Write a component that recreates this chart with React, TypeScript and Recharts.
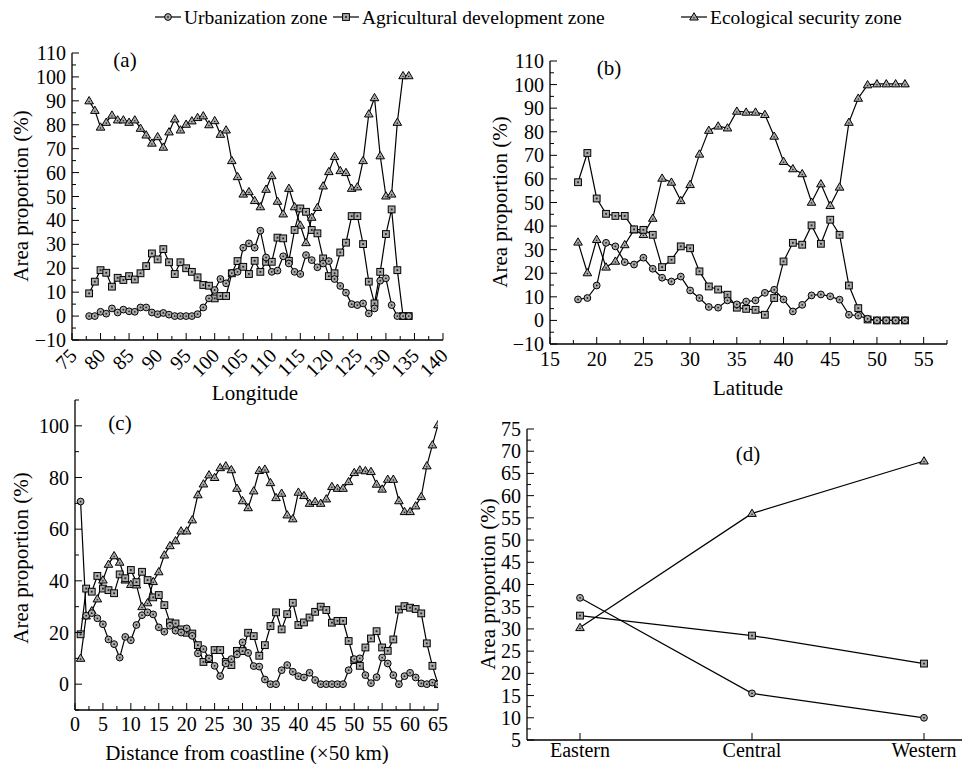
import React from 'react';
import { LineChart, Line, XAxis, YAxis } from 'recharts';

const FONT = '"Liberation Serif", "Times New Roman", Times, serif';
const TICK_FS = 20;
const TITLE_FS = 21;

// ---------- Panel (a): Longitude ----------
const LON = [78, 79, 80, 81, 82, 83, 84, 85, 86, 87, 88, 89, 90, 91, 92, 93, 94, 95, 96, 97, 98, 99, 100, 101, 102, 103, 104, 105, 106, 107, 108, 109, 110, 111, 112, 113, 114, 115, 116, 117, 118, 119, 120, 121, 122, 123, 124, 125, 126, 127, 128, 129, 130, 131, 132, 133, 134];
const URB_A = [0, 0, 1.8, 1, 3.2, 1.5, 2.7, 2, 1.8, 3.6, 3.6, 1.5, 0.8, 1.3, 0.6, 0, 0, 0, 0, 0.8, 3.6, 7.4, 10.9, 15.5, 13.7, 18, 18.5, 28.6, 30.4, 28.6, 35.7, 24.5, 18.5, 19, 25, 22, 18.5, 17.6, 25.5, 23.4, 20.4, 22, 23, 15.5, 12.6, 9.8, 5, 4.6, 5.3, 1.1, 3.2, 14.8, 15.8, 4.6, 0, 0, 0];
const AGR_A = [9.5, 14.4, 19.2, 18.1, 12.3, 16, 15.1, 16.7, 15.3, 17.9, 20.9, 26.2, 23.7, 28, 22.5, 17.6, 22.5, 20, 18.5, 16.2, 13, 12.7, 7.4, 8.4, 8.4, 17.9, 23, 20.6, 17.6, 23.1, 18.5, 22.7, 22.7, 32.8, 32.5, 23.1, 36, 45, 43.6, 36, 34.6, 24.1, 16.7, 17.9, 26.6, 30.7, 41.8, 41.8, 30.1, 14.4, 5.3, 18.5, 34.3, 44.6, 19.2, 0, 0];
const ECO_A = [90, 86, 79, 81, 84, 82, 82, 81, 82, 78.5, 75.7, 72.3, 75, 70.6, 77, 82.4, 77.8, 80.2, 81.6, 83, 83.7, 80, 81.7, 76, 77.8, 65, 58.3, 51, 52, 48.3, 45.7, 53, 58.7, 48, 42.7, 53.4, 45.7, 38, 30.7, 41.3, 45.4, 54.4, 60.4, 66.7, 60.8, 60, 53.4, 54, 65, 84.5, 91.3, 67, 50.2, 51, 81, 100.5, 100.5];
const X_TICKS_A = [75, 77.5, 80, 82.5, 85, 87.5, 90, 92.5, 95, 97.5, 100, 102.5, 105, 107.5, 110, 112.5, 115, 117.5, 120, 122.5, 125, 127.5, 130, 132.5, 135, 137.5, 140];
const X_LABELS_A = [75, 80, 85, 90, 95, 100, 105, 110, 115, 120, 125, 130, 135, 140];

// ---------- Panel (b): Latitude ----------
const LAT = [18, 19, 20, 21, 22, 23, 24, 25, 26, 27, 28, 29, 30, 31, 32, 33, 34, 35, 36, 37, 38, 39, 40, 41, 42, 43, 44, 45, 46, 47, 48, 49, 50, 51, 52, 53];
const URB_B = [8.9, 9.5, 14.8, 32.9, 31.4, 24.7, 23.7, 26.6, 21.9, 18.1, 16.5, 18.6, 12.7, 9.5, 5.7, 5.4, 8.5, 6.8, 8, 8.5, 11.7, 13, 8.9, 3.8, 6.6, 10.6, 11, 10.2, 8.8, 2.4, 2, 0.7, 0, 0, 0, 0];
const AGR_B = [58.6, 71, 51.7, 45.2, 44.3, 44.3, 38.6, 38.4, 36.3, 22.6, 25.7, 31.4, 30.6, 20.8, 14.4, 13.1, 10.9, 5.4, 4.9, 4.5, 2.4, 9.5, 25, 32.9, 32.1, 40.3, 32.5, 42.7, 36.3, 14.8, 5.2, 0.4, 0, 0, 0, 0];
const ECO_B = [33.2, 20.2, 34.3, 22.6, 25.1, 32.1, 38.4, 36.4, 43.3, 60.3, 58.6, 50.8, 57.6, 70.5, 80.6, 82.4, 81.6, 88.7, 88.3, 88.3, 87.3, 78.1, 67.4, 64.3, 62.2, 50.1, 57.9, 48.7, 56.5, 84, 94.2, 99.9, 100.3, 100.3, 100.3, 100.3];
const X_TICKS_B = [15, 17.5, 20, 22.5, 25, 27.5, 30, 32.5, 35, 37.5, 40, 42.5, 45, 47.5, 50, 52.5, 55, 57.5];
const X_LABELS_B = [15, 20, 25, 30, 35, 40, 45, 50, 55];

// ---------- Panel (c): Distance from coastline ----------
const DIST = [1, 2, 3, 4, 5, 6, 7, 8, 9, 10, 11, 12, 13, 14, 15, 16, 17, 18, 19, 20, 21, 22, 23, 24, 25, 26, 27, 28, 29, 30, 31, 32, 33, 34, 35, 36, 37, 38, 39, 40, 41, 42, 43, 44, 45, 46, 47, 48, 49, 50, 51, 52, 53, 54, 55, 56, 57, 58, 59, 60, 61, 62, 63, 64, 65];
const URB_C = [70.7, 26.5, 27.5, 25.5, 23.2, 17.3, 15.5, 10.3, 18.3, 17, 22.9, 26.7, 27.8, 27, 22, 20.3, 22.6, 20.7, 20, 21.6, 18.7, 11.9, 13.6, 10, 7.1, 3.1, 8, 9.7, 11.5, 16.2, 12.1, 7, 6.8, 1.8, 0, 0, 5.4, 7.4, 4.8, 3.1, 2.6, 4.4, 1.6, 0, 0, 0, 0, 0, 5.4, 9.7, 10, 3.5, 0.4, 2.7, 10.3, 8, 3.5, 0, 3.1, 4.4, 2.6, 0.3, 0, 0.6, 0];
const AGR_C = [19.3, 37, 35.8, 41.9, 37, 36.4, 35.2, 42.5, 41, 44.2, 39.5, 43.5, 40.3, 33.6, 34.5, 30.6, 23.9, 23.5, 21.2, 19.9, 19.6, 15.1, 8.6, 9.7, 13.2, 13.2, 8.6, 7.4, 12.9, 12.8, 19.9, 18.6, 11, 15.1, 22.5, 27.8, 21.2, 27.1, 31.5, 22.9, 23.9, 25.8, 28, 30, 28.7, 23.8, 24.5, 24.5, 16.7, 9.3, 7.1, 14.2, 17.7, 20.5, 14.2, 12.9, 17.3, 28.9, 30.2, 29.6, 29.1, 27.4, 15.8, 7.1, 0];
const ECO_C = [10, 26.4, 28.4, 33, 40.3, 46.4, 49.7, 47.2, 40.3, 38.6, 38.4, 30, 31.5, 39.7, 43.5, 50, 53.6, 55.5, 59.3, 59.3, 63.6, 73.3, 77.5, 81, 80, 83.8, 84.5, 83, 75.8, 71, 68.3, 74.8, 82.7, 83.2, 78, 72.2, 73.9, 65.5, 64, 74.3, 73, 70, 70.7, 70, 71.7, 76.5, 75.8, 75.8, 78.4, 81.9, 82.9, 82.6, 82.3, 77.4, 75.5, 79.3, 79.3, 71, 66.8, 66.8, 69, 72.6, 84.5, 92.6, 100.4];
const X_TICKS_C = [0, 2.5, 5, 7.5, 10, 12.5, 15, 17.5, 20, 22.5, 25, 27.5, 30, 32.5, 35, 37.5, 40, 42.5, 45, 47.5, 50, 52.5, 55, 57.5, 60, 62.5, 65];
const X_LABELS_C = [0, 5, 10, 15, 20, 25, 30, 35, 40, 45, 50, 55, 60, 65];
const Y_TICKS_C = [-10, 0, 10, 20, 30, 40, 50, 60, 70, 80, 90, 100, 110];
const Y_LABELS_C = [0, 20, 40, 60, 80, 100];

// ---------- Panel (d): Regions ----------
const REGIONS = ['Eastern', 'Central', 'Western'];
const URB_D = [37, 15.5, 10];
const AGR_D = [33, 28.5, 22.2];
const ECO_D = [30.3, 56, 67.8];
const Y_TICKS_D = [5, 7.5, 10, 12.5, 15, 17.5, 20, 22.5, 25, 27.5, 30, 32.5, 35, 37.5, 40, 42.5, 45, 47.5, 50, 52.5, 55, 57.5, 60, 62.5, 65, 67.5, 70, 72.5, 75];
const Y_LABELS_D = [5, 10, 15, 20, 25, 30, 35, 40, 45, 50, 55, 60, 65, 70, 75];

// shared y ticks for (a) and (b)
const Y_TICKS_AB = [-10, -5, 0, 5, 10, 15, 20, 25, 30, 35, 40, 45, 50, 55, 60, 65, 70, 75, 80, 85, 90, 95, 100, 105, 110];
const Y_LABELS_AB = [-10, 0, 10, 20, 30, 40, 50, 60, 70, 80, 90, 100, 110];

const SERIES_NAMES = ['Urbanization zone', 'Agricultural development zone', 'Ecological security zone'];

const rows = (xs: (number | string)[], u: number[], g: number[], e: number[]) =>
  xs.map((x, i) => ({ x, u: u[i], g: g[i], e: e[i] }));

const dataA = rows(LON, URB_A, AGR_A, ECO_A);
const dataB = rows(LAT, URB_B, AGR_B, ECO_B);
const dataC = rows(DIST, URB_C, AGR_C, ECO_C);
const dataD = rows(REGIONS, URB_D, AGR_D, ECO_D);

type Kind = 'circle' | 'square' | 'triangle';
const MFILL = '#a9a9a9';

function MarkerShape({ cx, cy, kind }: { cx: number; cy: number; kind: Kind }) {
  if (kind === 'circle') {
    return (
      <g>
        <circle cx={cx} cy={cy} r={3.4} fill={MFILL} stroke="#000" strokeWidth={1} />
        <circle cx={cx} cy={cy} r={0.9} fill="#222" />
      </g>
    );
  }
  if (kind === 'square') {
    return (
      <g>
        <rect x={cx - 3.4} y={cy - 3.4} width={6.8} height={6.8} fill={MFILL} stroke="#000" strokeWidth={1} />
        <rect x={cx - 0.9} y={cy - 0.9} width={1.8} height={1.8} fill="#222" />
      </g>
    );
  }
  return (
    <g>
      <polygon
        points={`${cx},${cy - 4.3} ${cx - 4.3},${cy + 3} ${cx + 4.3},${cy + 3}`}
        fill={MFILL}
        stroke="#000"
        strokeWidth={1}
      />
      <circle cx={cx} cy={cy + 0.8} r={0.8} fill="#222" />
    </g>
  );
}

const dotFor = (kind: Kind) => (p: any) => {
  const key = `${kind}-${p.index}`;
  if (p.cx == null || p.cy == null || isNaN(p.cx) || isNaN(p.cy)) return <g key={key} />;
  return <MarkerShape key={key} cx={p.cx} cy={p.cy} kind={kind} />;
};

const fmt = (v: number) => (v < 0 ? `\u2212${Math.abs(v)}` : `${v}`);

const yTick = (labels: number[]) => (p: any) => {
  const { x, y, payload } = p;
  const v = payload.value as number;
  const major = labels.includes(v);
  return (
    <g>
      <line x1={x} x2={x + (major ? 7 : 4)} y1={y} y2={y} stroke="#000" strokeWidth={1} />
      {major && (
        <text x={x - 6} y={y} dy="0.35em" textAnchor="end" fontFamily={FONT} fontSize={TICK_FS} fill="#000">
          {fmt(v)}
        </text>
      )}
    </g>
  );
};

const xTick = (labels: number[], offset: number) => (p: any) => {
  const { x, y, payload } = p;
  const v = payload.value as number;
  const major = labels.includes(v);
  return (
    <g>
      <line x1={x} x2={x} y1={y} y2={y - (major ? 7 : 4)} stroke="#000" strokeWidth={1} />
      {major && (
        <text x={x} y={y + offset} dy="0.71em" textAnchor="middle" fontFamily={FONT} fontSize={TICK_FS} fill="#000">
          {fmt(v)}
        </text>
      )}
    </g>
  );
};

const xTickRot = (labels: number[]) => (p: any) => {
  const { x, y, payload } = p;
  const v = payload.value as number;
  const major = labels.includes(v);
  const ax = x + 1;
  const ay = y + 12;
  return (
    <g>
      <line x1={x} x2={x} y1={y} y2={y - (major ? 7 : 4)} stroke="#000" strokeWidth={1} />
      {major && (
        <text
          x={ax}
          y={ay}
          dy="0.35em"
          textAnchor="end"
          transform={`rotate(-45 ${ax} ${ay})`}
          fontFamily={FONT}
          fontSize={TICK_FS}
          fill="#000"
        >
          {fmt(v)}
        </text>
      )}
    </g>
  );
};

const catTick = (p: any) => {
  const { x, y, payload } = p;
  return (
    <g>
      <line x1={x} x2={x} y1={y} y2={y - 7} stroke="#000" strokeWidth={1} />
      <text x={x} y={y + 3} dy="0.71em" textAnchor="middle" fontFamily={FONT} fontSize={TICK_FS} fill="#000">
        {payload.value}
      </text>
    </g>
  );
};

const AXIS_LINE = { stroke: '#000', strokeWidth: 1.3 };

const seriesLines = () => [
  <Line key="e" type="linear" dataKey="e" name={SERIES_NAMES[2]} stroke="#000" strokeWidth={1.2} dot={dotFor('triangle')} activeDot={false} isAnimationActive={false} />,
  <Line key="g" type="linear" dataKey="g" name={SERIES_NAMES[1]} stroke="#000" strokeWidth={1.2} dot={dotFor('square')} activeDot={false} isAnimationActive={false} />,
  <Line key="u" type="linear" dataKey="u" name={SERIES_NAMES[0]} stroke="#000" strokeWidth={1.2} dot={dotFor('circle')} activeDot={false} isAnimationActive={false} />,
];

function LegendItem({ x, kind, label }: { x: number; kind: Kind; label: string }) {
  const y = 17;
  return (
    <g>
      <line x1={x} x2={x + 26} y1={y} y2={y} stroke="#000" strokeWidth={1.2} />
      <MarkerShape cx={x + 13} cy={y} kind={kind} />
      <text x={x + 29} y={y} dy="0.35em" fontFamily={FONT} fontSize={19.5} fill="#000">
        {label}
      </text>
    </g>
  );
}

export default function App() {
  const abs = (left: number, top: number): React.CSSProperties => ({ position: 'absolute', left, top });
  return (
    <div style={{ position: 'absolute', left: 0, top: 0, width: 968, height: 764, background: '#fff', overflow: 'hidden' }}>
      {/* (a) */}
      <div style={abs(0, 0)}>
        <LineChart width={460} height={400} data={dataA} margin={{ top: 53, right: 17, left: 0, bottom: 0 }}>
          <XAxis dataKey="x" type="number" domain={[75, 140]} ticks={X_TICKS_A} interval={0} allowDataOverflow
            height={60} axisLine={AXIS_LINE} tickLine={false} tickSize={0} tickMargin={0} tick={xTickRot(X_LABELS_A)} />
          <YAxis type="number" domain={[-10, 110]} ticks={Y_TICKS_AB} interval={0} allowDataOverflow
            width={72} axisLine={AXIS_LINE} tickLine={false} tickSize={0} tickMargin={0} tick={yTick(Y_LABELS_AB)} />
          {seriesLines()}
        </LineChart>
      </div>
      {/* (b) */}
      <div style={abs(480, 0)}>
        <LineChart width={488} height={400} data={dataB} margin={{ top: 61, right: 21, left: 0, bottom: 0 }}>
          <XAxis dataKey="x" type="number" domain={[15, 57.5]} ticks={X_TICKS_B} interval={0} allowDataOverflow
            height={56} axisLine={AXIS_LINE} tickLine={false} tickSize={0} tickMargin={0} tick={xTick(X_LABELS_B, 8)} />
          <YAxis type="number" domain={[-10, 110]} ticks={Y_TICKS_AB} interval={0} allowDataOverflow
            width={70} axisLine={AXIS_LINE} tickLine={false} tickSize={0} tickMargin={0} tick={yTick(Y_LABELS_AB)} />
          {seriesLines()}
        </LineChart>
      </div>
      {/* (c) */}
      <div style={abs(0, 380)}>
        <LineChart width={460} height={384} data={dataC} margin={{ top: 20, right: 22, left: 0, bottom: 0 }}>
          <XAxis dataKey="x" type="number" domain={[0, 65]} ticks={X_TICKS_C} interval={0} allowDataOverflow
            height={54} axisLine={AXIS_LINE} tickLine={false} tickSize={0} tickMargin={0} tick={xTick(X_LABELS_C, 7)} />
          <YAxis type="number" domain={[-10, 110]} ticks={Y_TICKS_C} interval={0} allowDataOverflow
            width={75} axisLine={AXIS_LINE} tickLine={false} tickSize={0} tickMargin={0} tick={yTick(Y_LABELS_C)} />
          {seriesLines()}
        </LineChart>
      </div>
      {/* (d) */}
      <div style={abs(470, 400)}>
        <LineChart width={498} height={364} data={dataD} margin={{ top: 29, right: 6, left: 0, bottom: 0 }}>
          <XAxis dataKey="x" type="category" padding={{ left: 53, right: 38 }} interval={0}
            height={24} axisLine={AXIS_LINE} tickLine={false} tickSize={0} tickMargin={0} tick={catTick} />
          <YAxis type="number" domain={[5, 75]} ticks={Y_TICKS_D} interval={0} allowDataOverflow
            width={57} axisLine={AXIS_LINE} tickLine={false} tickSize={0} tickMargin={0} tick={yTick(Y_LABELS_D)} />
          {seriesLines()}
        </LineChart>
      </div>
      {/* titles, panel labels, legend */}
      <svg width={968} height={764} style={{ position: 'absolute', left: 0, top: 0, pointerEvents: 'none' }}>
        <LegendItem x={155} kind="circle" label={SERIES_NAMES[0]} />
        <LegendItem x={333} kind="square" label={SERIES_NAMES[1]} />
        <LegendItem x={681} kind="triangle" label={SERIES_NAMES[2]} />

        <text x={125} y={60} dy="0.35em" textAnchor="middle" fontFamily={FONT} fontSize={TITLE_FS}>(a)</text>
        <text x={609} y={68} dy="0.35em" textAnchor="middle" fontFamily={FONT} fontSize={TITLE_FS}>(b)</text>
        <text x={120} y={423} dy="0.35em" textAnchor="middle" fontFamily={FONT} fontSize={TITLE_FS}>(c)</text>
        <text x={748} y={454} dy="0.35em" textAnchor="middle" fontFamily={FONT} fontSize={TITLE_FS}>(d)</text>

        <text x={21} y={196} dy="0.35em" textAnchor="middle" transform="rotate(-90 21 196)" fontFamily={FONT} fontSize={TITLE_FS}>Area proportion (%)</text>
        <text x={500} y={202} dy="0.35em" textAnchor="middle" transform="rotate(-90 500 202)" fontFamily={FONT} fontSize={TITLE_FS}>Area proportion (%)</text>
        <text x={21} y={558} dy="0.35em" textAnchor="middle" transform="rotate(-90 21 558)" fontFamily={FONT} fontSize={TITLE_FS}>Area proportion (%)</text>
        <text x={488} y={584} dy="0.35em" textAnchor="middle" transform="rotate(-90 488 584)" fontFamily={FONT} fontSize={TITLE_FS}>Area proportion (%)</text>

        <text x={255} y={393} dy="0.35em" textAnchor="middle" fontFamily={FONT} fontSize={TITLE_FS}>Longitude</text>
        <text x={748} y={388} dy="0.35em" textAnchor="middle" fontFamily={FONT} fontSize={TITLE_FS}>Latitude</text>
        <text x={247} y={753} dy="0.35em" textAnchor="middle" fontFamily={FONT} fontSize={TITLE_FS}>Distance from coastline (×50 km)</text>
      </svg>
    </div>
  );
}
